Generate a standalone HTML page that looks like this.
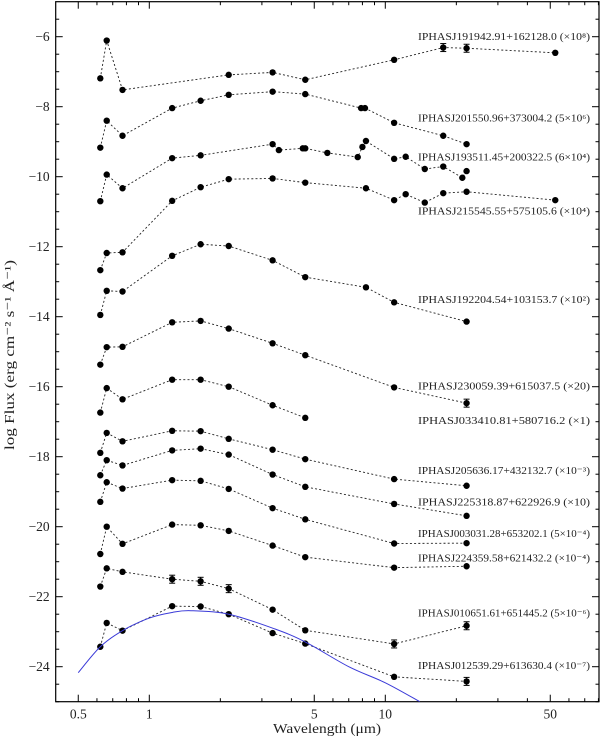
<!DOCTYPE html>
<html><head><meta charset="utf-8">
<style>
html,body{margin:0;padding:0;background:#fff;}
svg{display:block;font-family:"Liberation Serif",serif;}
</style></head>
<body>
<svg id="chart" width="600" height="740" viewBox="0 0 600 740" xmlns="http://www.w3.org/2000/svg">
<g id="plot"></g>
</svg>
<script>
// ---- data ----
const s1Lam = [0.62,0.66,0.77,2.17,3.33,4.58,10.9,17.6,22.1,52.5];
const s1Val = [-7.19,-6.11,-7.52,-7.09,-7.02,-7.23,-6.66,-6.31,-6.33,-6.46];
const s2Lam = [0.62,0.66,0.77,1.25,1.65,2.17,3.33,4.58,7.9,8.2,10.9,17.6,22.1];
const s2Val = [-9.17,-8.40,-8.83,-8.04,-7.83,-7.66,-7.57,-7.64,-8.04,-8.04,-8.46,-8.83,-9.07];
const s3Lam = [0.62,0.66,0.77,1.25,1.65,3.33,3.54,4.47,4.58,5.68,7.64,8.0,8.28,10.9,12.2,14.7,17.6,21.2,22.1];
const s3Val = [-10.70,-9.94,-10.33,-9.47,-9.39,-9.07,-9.24,-9.19,-9.19,-9.32,-9.44,-9.15,-8.98,-9.49,-9.43,-9.78,-9.71,-10.03,-9.84];
const s4Lam = [0.62,0.66,0.77,1.25,1.65,2.17,3.33,4.58,8.28,10.9,12.2,14.7,17.6,22.1,52.5];
const s4Val = [-12.67,-12.18,-12.16,-10.69,-10.30,-10.07,-10.05,-10.17,-10.33,-10.67,-10.50,-10.74,-10.47,-10.43,-10.67];
const s5Lam = [0.62,0.66,0.77,1.25,1.65,2.17,3.33,4.58,8.28,10.9,22.1];
const s5Val = [-13.95,-13.26,-13.28,-12.26,-11.93,-11.98,-12.39,-12.87,-13.16,-13.59,-14.14];
const s6Lam = [0.62,0.66,0.77,1.25,1.65,2.17,3.33,4.58,10.9,22.1];
const s6Val = [-15.37,-14.87,-14.86,-14.16,-14.12,-14.34,-14.76,-15.10,-16.02,-16.47];
const s7Lam = [0.62,0.66,0.77,1.25,1.65,2.17,3.33,4.58];
const s7Val = [-16.74,-16.04,-16.36,-15.80,-15.80,-16.00,-16.53,-16.89];
const s8Lam = [0.62,0.66,0.77,1.25,1.65,2.17,3.33,4.58,10.9,22.1];
const s8Val = [-17.89,-17.32,-17.56,-17.26,-17.27,-17.49,-17.80,-18.07,-18.64,-18.83];
const s9Lam = [0.62,0.66,0.77,1.25,1.65,2.17,3.33,4.58,10.9,22.1];
const s9Val = [-18.53,-18.10,-18.25,-17.82,-17.77,-17.94,-18.51,-18.86,-19.35,-19.69];
const s10Lam = [0.62,0.66,0.77,1.25,1.65,2.17,3.33,4.58,10.9,22.1];
const s10Val = [-19.29,-18.73,-18.91,-18.67,-18.69,-18.92,-19.47,-19.79,-20.48,-20.47];
const s11Lam = [0.62,0.66,0.77,1.25,1.65,2.17,3.33,4.58,10.9,22.1];
const s11Val = [-20.78,-20.00,-20.49,-19.94,-19.96,-20.12,-20.54,-20.87,-21.17,-21.13];
const s12Lam = [0.62,0.66,0.77,1.25,1.65,2.17,3.33,4.58,10.9,22.1];
const s12Val = [-21.71,-21.19,-21.29,-21.50,-21.56,-21.77,-22.37,-22.96,-23.35,-22.83];
const s13Lam = [0.62,0.66,0.77,1.25,1.65,2.17,3.33,4.58,10.9,22.1];
const s13Val = [-23.43,-22.75,-22.97,-22.27,-22.28,-22.50,-23.04,-23.34,-24.29,-24.42];
const labels = [
 "IPHASJ191942.91+162128.0 (×10⁸)","IPHASJ201550.96+373004.2 (5×10⁶)","IPHASJ193511.45+200322.5 (6×10⁴)",
 "IPHASJ215545.55+575105.6 (×10⁴)","IPHASJ192204.54+103153.7 (×10²)","IPHASJ230059.39+615037.5 (×20)",
 "IPHASJ033410.81+580716.2 (×1)","IPHASJ205636.17+432132.7 (×10⁻³)","IPHASJ225318.87+622926.9 (×10)",
 "IPHASJ003031.28+653202.1 (5×10⁻⁴)","IPHASJ224359.58+621432.2 (×10⁻⁴)","IPHASJ010651.61+651445.2 (5×10⁻⁶)",
 "IPHASJ012539.29+613630.4 (×10⁻⁷)"];
const labelVal = [-5.99,-8.32,-9.44,-10.98,-13.51,-15.98,-16.97,-18.40,-19.30,-20.19,-20.89,-22.46,-23.96];
const errLam = [[17.6,22.1],[],[],[],[],[22.1],[],[],[],[],[],[1.25,1.65,2.17,10.9,22.1],[22.1]];
const bbLam = [0.5,0.62,0.77,1.0,1.25,1.5,2.17,3.4,4.6,7,10,14];
const bbVal = [-24.17,-23.43,-22.97,-22.61,-22.45,-22.40,-22.50,-22.92,-23.30,-24.0,-24.46,-25.0];
const xTickVals = [0.5,1,5,10,50];
const yTickVals = [-24,-22,-20,-18,-16,-14,-12,-10,-8,-6];

const series = [[s1Lam,s1Val],[s2Lam,s2Val],[s3Lam,s3Val],[s4Lam,s4Val],[s5Lam,s5Val],[s6Lam,s6Val],[s7Lam,s7Val],[s8Lam,s8Val],[s9Lam,s9Val],[s10Lam,s10Val],[s11Lam,s11Val],[s12Lam,s12Val],[s13Lam,s13Val]];

// ---- axes ----
const L=55.7,R=599,T=1.7,B=701.7;
const X = l => 149.3 + 236*Math.log10(l);
const Y = v => T + (-5 - v)*35;
const NS="http://www.w3.org/2000/svg";
const svg=document.getElementById('chart');
const plot=document.getElementById('plot');
function mk(tag,attrs,parent){const e=document.createElementNS(NS,tag);for(const k in attrs)e.setAttribute(k,attrs[k]);(parent||svg).appendChild(e);return e;}

const defs=mk('defs',{});
const cp=mk('clipPath',{id:'clip'},defs);
mk('rect',{x:L,y:T,width:R-L,height:B-T},cp);

const frame=mk('rect',{x:L,y:T,width:R-L,height:B-T,fill:'none',stroke:'#000','stroke-width':1.2});



for(let v=-25;v<=-5.001;v+=0.5){
  const major=Math.abs(v-Math.round(v))<1e-6 && Math.round(v)%2===0;
  const len=major?7:3.5;
  mk('line',{x1:L,x2:L+len,y1:Y(v),y2:Y(v),stroke:'#000','stroke-width':1});
  mk('line',{x1:R-len,x2:R,y1:Y(v),y2:Y(v),stroke:'#000','stroke-width':1});
}
yTickVals.forEach(v=>{
  const t=mk('text',{x:L-6,y:Y(v)+4.5,'text-anchor':'end','font-size':13.5,fill:'#222'});
  t.textContent='−'+Math.abs(v);
  
  
});
const minorX=[];
[0.1,1,10].forEach(d=>{for(let m=1;m<=9;m++)minorX.push(m*d);});
minorX.forEach(l=>{
  const x=X(l); if(x<L||x>R) return;
  const major=[1,5,10,50,0.5].some(m=>Math.abs(m-l)<1e-9);
  const len=major?7:3.5;
  mk('line',{x1:x,x2:x,y1:B,y2:B-len,stroke:'#000','stroke-width':1});
  mk('line',{x1:x,x2:x,y1:T,y2:T+len,stroke:'#000','stroke-width':1});
});
xTickVals.forEach(l=>{
  const t=mk('text',{x:X(l),y:B+17,'text-anchor':'middle','font-size':13.5,fill:'#222'});
  t.textContent=String(l);
  
  
});
const xt=mk('text',{x:327,y:733,'text-anchor':'middle','font-size':14,fill:'#222',textLength:108,lengthAdjust:'spacingAndGlyphs'});
xt.textContent='Wavelength  (μm)';


const yt=mk('text',{x:0,y:0,'text-anchor':'middle','font-size':13.5,fill:'#222',transform:'translate(14,355) rotate(-90)',textLength:190,lengthAdjust:'spacingAndGlyphs'});
yt.textContent='log Flux (erg cm⁻² s⁻¹ Å⁻¹)';



(function(){
  const p=bbLam.map((l,i)=>[X(l),Y(bbVal[i])]);
  let d='M'+p[0][0]+','+p[0][1];
  for(let i=0;i<p.length-1;i++){
    const p0=p[Math.max(0,i-1)],p1=p[i],p2=p[i+1],p3=p[Math.min(p.length-1,i+2)];
    d+=' C'+(p1[0]+(p2[0]-p0[0])/6)+','+(p1[1]+(p2[1]-p0[1])/6)+' '+(p2[0]-(p3[0]-p1[0])/6)+','+(p2[1]-(p3[1]-p1[1])/6)+' '+p2[0]+','+p2[1];
  }
  const c=mk('path',{d:d,fill:'none',stroke:'#3a3ad8','stroke-width':1,'clip-path':'url(#clip)'});
  
  
})();

series.forEach((s,k)=>{
  const [lam,val]=s;
  const g=mk('g',{},plot);
  
  
  const pts=lam.map((l,i)=>X(l)+','+Y(val[i])).join(' ');
  const pl=mk('polyline',{points:pts,fill:'none',stroke:'#222','stroke-width':0.9,'stroke-dasharray':'2,2.2'},g);
  
  
  lam.forEach((l,i)=>{
    if(errLam[k].includes(l)){
      const x=X(l),y=Y(val[i]),h=4;
      mk('line',{x1:x,x2:x,y1:y-h,y2:y+h,stroke:'#000','stroke-width':1},g);
      mk('line',{x1:x-3,x2:x+3,y1:y-h,y2:y-h,stroke:'#000','stroke-width':1},g);
      mk('line',{x1:x-3,x2:x+3,y1:y+h,y2:y+h,stroke:'#000','stroke-width':1},g);
    }
    const c=mk('circle',{cx:X(l),cy:Y(val[i]),r:3.2,fill:'#000'},g);
    
    
  });
  const t=mk('text',{x:590,y:Y(labelVal[k])+3.5,'text-anchor':'end','font-size':10,fill:'#222',textLength:172,lengthAdjust:'spacingAndGlyphs'},g);
  t.textContent=labels[k];
  
  
});
</script>
</body></html>
